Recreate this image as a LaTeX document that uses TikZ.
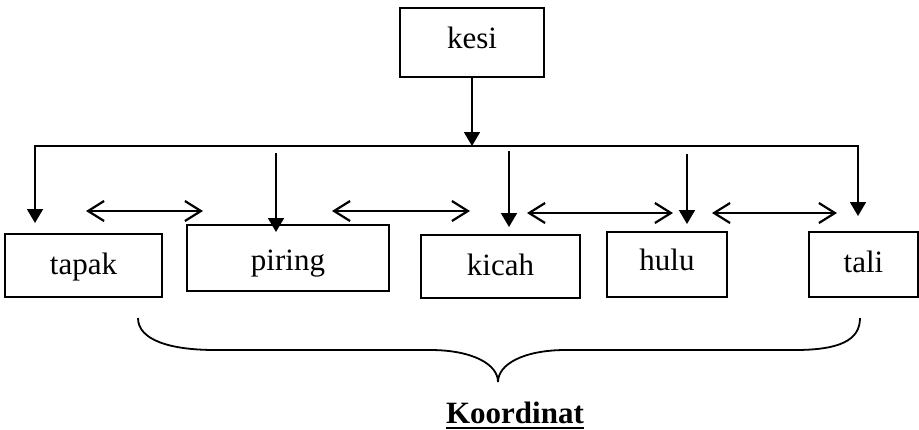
\documentclass[tikz,border=0pt]{standalone}
\usepackage{fontspec}
\setmainfont{Liberation Serif}
\newcommand{\ThickUnder}[1]{\setbox0\hbox{#1}\rlap{\rule[-6pt]{\wd0}{2.5pt}}\box0}
\usepackage{tikz}
\usetikzlibrary{arrows.meta}
\tikzstyle{NodeBox}=[draw,line width=1.5pt,inner xsep=0pt,inner ysep=0pt,anchor=base,
text height=40pt,font=\fontsize{31}{37}\selectfont]
\tikzstyle{EdgeBus}=[line width=1.8pt,{Triangle[length=14pt,width=16pt]}-{Triangle[length=14pt,width=16pt]}]
\tikzstyle{EdgeDown}=[line width=1.8pt,-{Triangle[length=14pt,width=16pt]}]
\tikzstyle{EdgeBoth}=[line width=1.8pt,{Straight Barb[length=16pt,width=20pt,line width=2.2pt]}-{Straight Barb[length=16pt,width=20pt,line width=2.2pt]}]
\tikzstyle{EdgeBrace}=[line width=1.8pt]

\begin{document}
\begin{tikzpicture}[x=1pt,y=-1pt]
        \useasboundingbox(0,0)rectangle(919,429);
        \node[NodeBox,minimum width=144pt,text depth=29pt](kesi)at(472,48){kesi};
        \node[NodeBox,minimum width=157pt,text depth=23pt](tapak)at(83.5,274){tapak};
        \node[NodeBox,minimum width=202pt,text height=45pt,text depth=21pt](piring)at(288,270){piring};
        \node[NodeBox,minimum width=159pt,text depth=23pt](kicah)at(500.5,275){kicah};
        \node[NodeBox,minimum width=120pt,text height=38pt,text depth=27pt](hulu)at(667,270){hulu};
        \node[NodeBox,minimum width=109pt,text depth=25pt](tali)at(863.5,272){tali};
        \node[anchor=base,inner sep=0pt,font=\fontsize{31}{37}\selectfont\bfseries](koordinat)at(515,423){\ThickUnder{Koordinat}};
        \coordinate(busL)at(35,146);
        \coordinate(busR)at(858,146);
        \coordinate(inTapak)at(35,223);
        \coordinate(outPiring)at(276,153);
        \coordinate(inPiring)at(276,232);
        \coordinate(outKicah)at(509,151);
        \coordinate(inKicah)at(509,227);
        \coordinate(outHulu)at(687,154);
        \coordinate(inHulu)at(687,224);
        \coordinate(inTali)at(858,216);
        \coordinate(tpL)at(86,211);
        \coordinate(tpR)at(203,211);
        \coordinate(pkL)at(332,211);
        \coordinate(pkR)at(470,211);
        \coordinate(khL)at(527,213);
        \coordinate(khR)at(673,213);
        \coordinate(htL)at(712,213);
        \coordinate(htR)at(837,213);
        \draw[EdgeBus](inTapak)--(busL)--(busR)--(inTali);
        \draw[EdgeDown](kesi.south)--(kesi.south|-busL);
        \draw[EdgeDown](outPiring)--(inPiring);
        \draw[EdgeDown](outKicah)--(inKicah);
        \draw[EdgeDown](outHulu)--(inHulu);
        \draw[EdgeBoth](tpL)--(tpR);
        \draw[EdgeBoth](pkL)--(pkR);
        \draw[EdgeBoth](khL)--(khR);
        \draw[EdgeBoth](htL)--(htR);
        \draw[EdgeBrace](138,318)..controls(138,340)and(170,350)..(215,350)--(430,350)
            ..controls(472,350)and(498,364)..(498,382)..controls(498,364)and(524,350)..(566,350)
            --(795,350)..controls(840,350)and(860,340)..(860,318);
    \end{tikzpicture}
\end{document}
